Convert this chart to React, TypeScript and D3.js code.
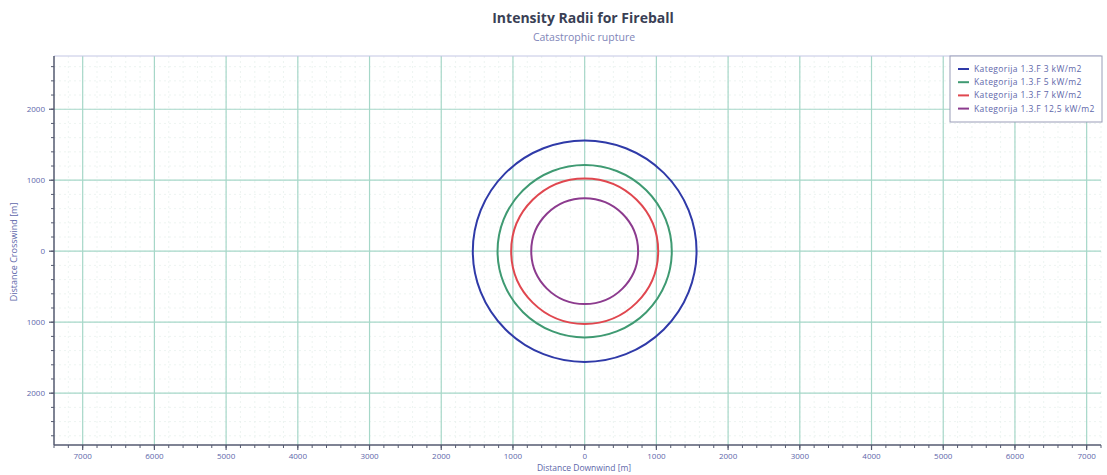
import React from "react";
import * as d3 from "d3";

const W = 1107;
const H = 475;

const seriesNames = [
  "Kategorija 1.3.F 3 kW/m2",
  "Kategorija 1.3.F 5 kW/m2",
  "Kategorija 1.3.F 7 kW/m2",
  "Kategorija 1.3.F 12,5 kW/m2",
];
const radii = [1560, 1215, 1025, 745];
const colors = ["#2f3aa8", "#3f9a72", "#e0474f", "#8c3b8e"];

const xTicks = [-7000, -6000, -5000, -4000, -3000, -2000, -1000, 0, 1000, 2000, 3000, 4000, 5000, 6000, 7000];
const xTickLabels = ["7000", "6000", "5000", "4000", "3000", "2000", "1000", "0", "1000", "2000", "3000", "4000", "5000", "6000", "7000"];
const yTicks = [2000, 1000, 0, -1000, -2000];
const yTickLabels = ["2000", "1000", "0", "1000", "2000"];

export default function App() {
  const left = 54, right = 1101, top = 56, bottom = 445;
  const x = d3.scaleLinear().domain([-7400, 7200]).range([left, right]);
  const y = d3.scaleLinear().domain([-2730, 2750]).range([bottom, top]);
  const minorX = d3.range(-7400, 7201, 200);
  const minorY = d3.range(-2600, 2751, 200);
  const labelColor = "#6067aa";
  const font = "'Open Sans', 'DejaVu Sans', sans-serif";

  return (
    <svg width={W} height={H} style={{ position: "absolute", left: 0, top: 0, background: "#fff" }} fontFamily={font}>
      <rect x={0} y={0} width={W} height={H} fill="#fff" />
      <text x={583} y={23} textAnchor="middle" fontSize={14} fontWeight="bold" fill="#3a3f55">
        Intensity Radii for Fireball
      </text>
      <text x={584} y={41} textAnchor="middle" fontSize={10.5} fill="#8085b8">
        Catastrophic rupture
      </text>

      {/* minor grid */}
      {minorX.map((v) => (
        <line key={"mx" + v} x1={x(v)} x2={x(v)} y1={top} y2={bottom} stroke="#e8f1ee" strokeWidth={0.8} strokeDasharray="2,3" />
      ))}
      {minorY.map((v) => (
        <line key={"my" + v} x1={left} x2={right} y1={y(v)} y2={y(v)} stroke="#e8f1ee" strokeWidth={0.8} strokeDasharray="2,3" />
      ))}
      {/* major grid */}
      {xTicks.map((v) => (
        <line key={"gx" + v} x1={x(v)} x2={x(v)} y1={top} y2={bottom} stroke="#a6d7c8" strokeWidth={1.2} />
      ))}
      {yTicks.map((v) => (
        <line key={"gy" + v} x1={left} x2={right} y1={y(v)} y2={y(v)} stroke="#a6d7c8" strokeWidth={1.2} />
      ))}

      {/* frame */}
      <line x1={left} x2={right} y1={top} y2={top} stroke="#c3c6e4" strokeWidth={1} />
      <line x1={left} x2={left} y1={top} y2={bottom} stroke="#555a70" strokeWidth={1.5} />
      <line x1={left} x2={right} y1={bottom} y2={bottom} stroke="#555a70" strokeWidth={1.5} />

      {/* minor ticks */}
      {minorX.map((v) => (
        <line key={"tx" + v} x1={x(v)} x2={x(v)} y1={bottom} y2={bottom + 3} stroke="#555a70" strokeWidth={1} />
      ))}
      {minorY.map((v) => (
        <line key={"ty" + v} x1={left - 3} x2={left} y1={y(v)} y2={y(v)} stroke="#555a70" strokeWidth={1} />
      ))}
      {xTicks.map((v) => (
        <line key={"Tx" + v} x1={x(v)} x2={x(v)} y1={bottom} y2={bottom + 5} stroke="#555a70" strokeWidth={1.2} />
      ))}
      {yTicks.map((v) => (
        <line key={"Ty" + v} x1={left - 5} x2={left} y1={y(v)} y2={y(v)} stroke="#555a70" strokeWidth={1.2} />
      ))}

      {/* tick labels */}
      {xTicks.map((v, i) => (
        <text key={"lx" + v} x={x(v)} y={459} textAnchor="middle" fontSize={8} fill={labelColor}>
          {xTickLabels[i]}
        </text>
      ))}
      {yTicks.map((v, i) => (
        <text key={"ly" + v} x={45} y={y(v) + 3} textAnchor="end" fontSize={8} fill={labelColor}>
          {yTickLabels[i]}
        </text>
      ))}

      <text x={584} y={471} textAnchor="middle" fontSize={8.5} fill={labelColor}>
        Distance Downwind [m]
      </text>
      <text transform="translate(17, 252) rotate(-90)" textAnchor="middle" fontSize={9} fill={labelColor}>
        Distance Crosswind [m]
      </text>

      {/* circles */}
      {radii.map((r, i) => (
        <ellipse
          key={"c" + i}
          cx={x(0)}
          cy={y(0)}
          rx={x(r) - x(0)}
          ry={y(0) - y(r)}
          fill="none"
          stroke={colors[i]}
          strokeWidth={2}
        />
      ))}

      {/* legend */}
      <rect x={950} y={56} width={152} height={66} fill="#fff" stroke="#9a9db8" strokeWidth={1} />
      {seriesNames.map((n, i) => (
        <g key={"lg" + i}>
          <line x1={958} x2={969} y1={69 + i * 13.2} y2={69 + i * 13.2} stroke={colors[i]} strokeWidth={2} />
          <text x={974} y={72 + i * 13.2} fontSize={8.5} letterSpacing={0.4} fill={labelColor}>
            {n}
          </text>
        </g>
      ))}
    </svg>
  );
}
